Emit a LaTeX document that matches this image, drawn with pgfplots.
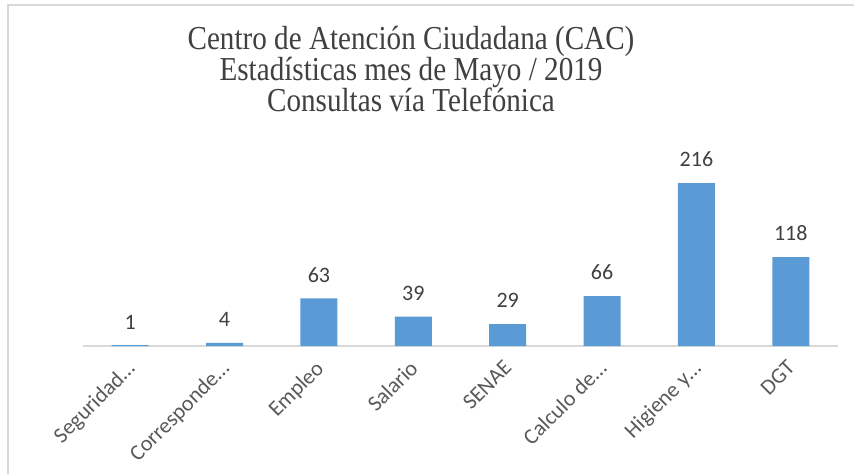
\documentclass[border=0pt]{standalone}
\usepackage{pgfplots}
\pgfplotsset{compat=1.18}
\usepackage{fontspec}
\setmainfont{Carlito}
\newfontfamily\titlefont[FakeStretch=0.87]{Liberation Serif}
\definecolor{barblue}{HTML}{5B9BD5}
\definecolor{lblgray}{HTML}{595959}
\definecolor{numgray}{HTML}{404040}
\definecolor{titlegray}{HTML}{404040}
\definecolor{linegray}{HTML}{D9D9D9}
\begin{document}
\begin{tikzpicture}
\path[use as bounding box] (0pt,0pt) rectangle (854pt,474pt);
\draw[linegray, line width=1.5pt] (8pt,0pt) -- (8pt,469pt) -- (854pt,469pt);
\begin{scope}[font=\titlefont\fontsize{33.5}{34}\selectfont, text=titlegray]
\node[anchor=base, inner sep=0pt] at (411pt,424pt) {Centro de Atención Ciudadana (CAC)};
\node[anchor=base, inner sep=0pt] at (411pt,393pt) {Estadísticas mes de Mayo / 2019};
\node[anchor=base, inner sep=0pt] at (411pt,362pt) {Consultas vía Telefónica};
\end{scope}
\begin{axis}[
  at={(83pt,128pt)}, anchor=south west,
  scale only axis,
  width=755pt, height=181pt,
  xmin=-0.5, xmax=7.5, ymin=0, ymax=240,
  axis x line*=bottom, axis y line=none,
  x axis line style={linegray, line width=1.5pt, -},
  xtick={0,...,7},
  xticklabels={Seguridad…,Corresponde…,Empleo,Salario,SENAE,Calculo de…,Higiene y…,DGT},
  major tick length=0pt,
  xticklabel style={xshift=-5pt, rotate=45, anchor=north east, inner sep=0pt, font=\fontsize{22}{24}\selectfont, text=lblgray},
  xticklabel shift=13pt,
  ybar, bar width=37pt,
  /pgf/number format/assume math mode=true,
  nodes near coords,
  nodes near coords style={anchor=south, inner sep=0pt, yshift=16pt, font=\fontsize{22}{24}\selectfont, text=numgray},
]
\addplot[fill=barblue, draw=none] coordinates {(0,1) (1,4) (2,63) (3,39) (4,29) (5,66) (6,216) (7,118)};
\end{axis}
\end{tikzpicture}
\end{document}
